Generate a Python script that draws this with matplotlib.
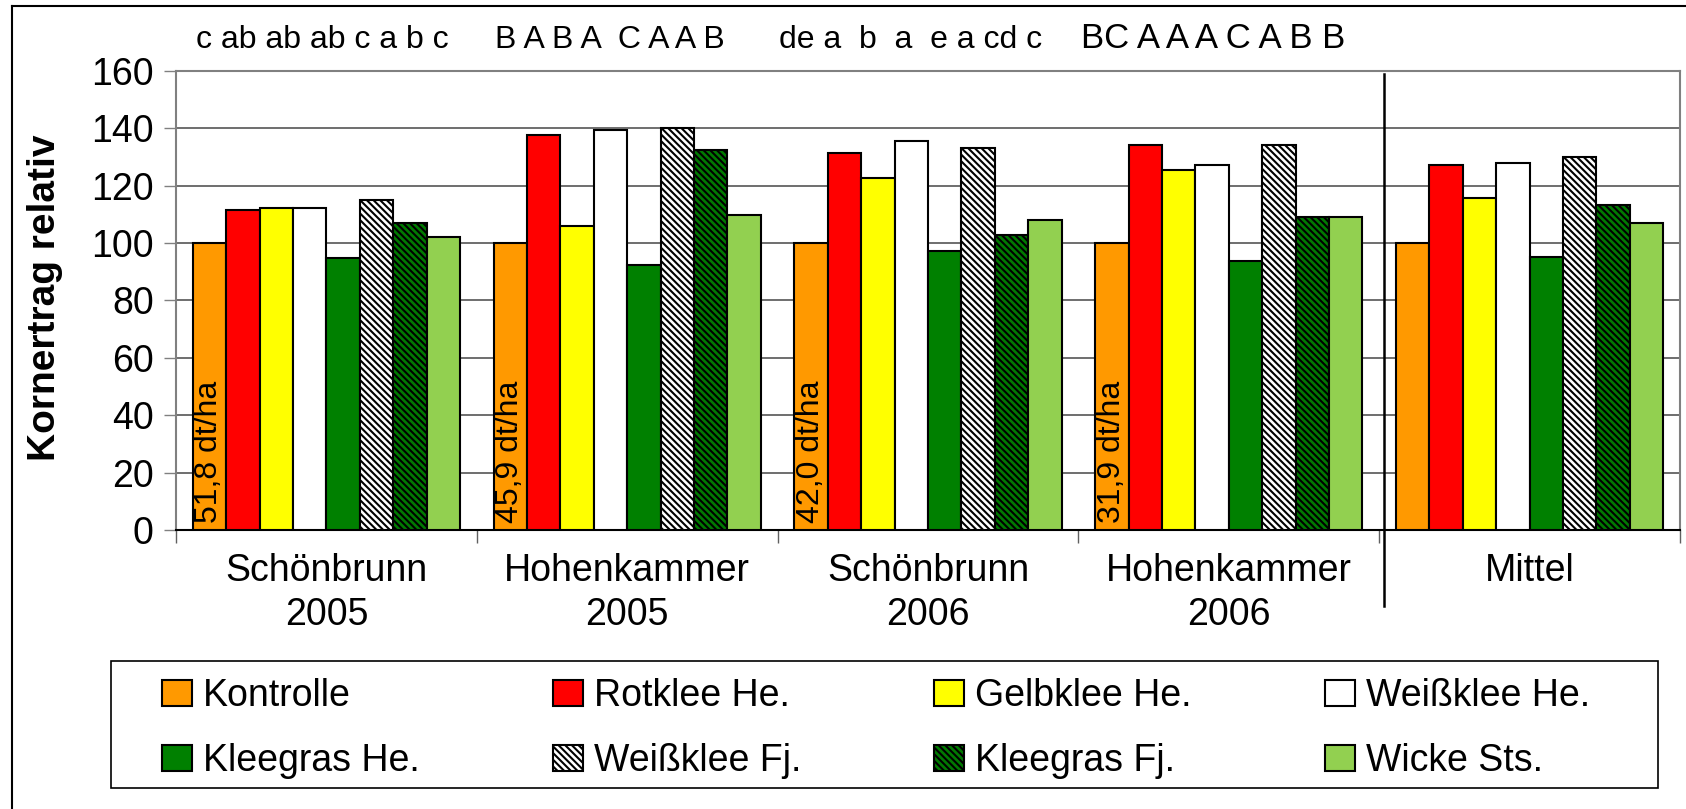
import matplotlib
matplotlib.use("Agg")
import matplotlib.pyplot as plt
from matplotlib.lines import Line2D
from matplotlib.patches import Rectangle
import matplotlib.transforms as mtransforms
import numpy as np

plt.rcParams['font.family'] = ['Liberation Sans', 'DejaVu Sans']
plt.rcParams['hatch.linewidth'] = 1.5
plt.rcParams['hatch.color'] = 'black'

# ---------------- data ----------------
groups = ["Schönbrunn\n2005", "Hohenkammer\n2005", "Schönbrunn\n2006",
          "Hohenkammer\n2006", "Mittel"]
series = ["Kontrolle", "Rotklee He.", "Gelbklee He.", "Weißklee He.",
          "Kleegras He.", "Weißklee Fj.", "Kleegras Fj.", "Wicke Sts."]

kontrolle   = [100, 100, 100, 100, 100]
rotklee     = [111.5, 137.7, 131.5, 134.1, 127.1]
gelbklee    = [112.3, 106.0, 122.7, 125.4, 115.8]
weissklee   = [112.3, 139.2, 135.7, 127.0, 128.0]
kleegras    = [94.9, 92.3, 97.3, 93.8, 95.0]
weissklee_f = [115.0, 140.2, 133.2, 134.1, 129.8]
kleegras_f  = [107.1, 132.3, 102.8, 108.9, 113.2]
wicke       = [102.0, 109.6, 108.0, 108.9, 107.1]

absolute_labels = ["51,8 dt/ha", "45,9 dt/ha", "42,0 dt/ha", "31,9 dt/ha"]

letter_rows = ["c ab ab ab c a b c",
               "B A B A  C A A B",
               "de a  b  a  e a cd c",
               "BC A A A C A B B"]

yticks = [0, 20, 40, 60, 80, 100, 120, 140, 160]

# ---------------- styles ----------------
values = [kontrolle, rotklee, gelbklee, weissklee, kleegras, weissklee_f,
          kleegras_f, wicke]
colors = ['#FF9900', '#FF0000', '#FFFF00', '#FFFFFF', '#008000', '#FFFFFF',
          '#007A00', '#92D050']
hatches = [None, None, None, None, None, '\\' * 5, '\\' * 5, None]
letter_sizes = [23, 23, 23, 25]
letter_offsets = [0.066, 0.06, 0.005, 0.01]

W, H = 1686, 809
fig = plt.figure(figsize=(W / 100, H / 100), dpi=100)
ax = fig.add_axes([176 / W, 1 - 530.3 / H, 1504 / W, (530.3 - 70.7) / H])

n_groups = len(groups)
n_series = len(series)
bw = 1.0 / (n_series + 1)
gx = np.arange(n_groups)

bars = []
for j in range(n_series):
    xs = gx + (j + 1) * bw
    b = ax.bar(xs, values[j], width=bw, color=colors[j], edgecolor='black',
               linewidth=1.5, hatch=hatches[j], label=series[j], zorder=3)
    bars.append(b)

# rotated absolute yields inside Kontrolle bars
for i, lab in enumerate(absolute_labels):
    ax.text(gx[i] + bw, 2.5, lab, rotation=90, ha='center', va='bottom',
            fontsize=23, color='black', zorder=5)

# significance letters above plot
trans = mtransforms.blended_transform_factory(ax.transData, fig.transFigure)
for i, s in enumerate(letter_rows):
    ax.text(gx[i] + letter_offsets[i], 1 - 48 / H, s, transform=trans,
            ha='left', va='baseline', fontsize=letter_sizes[i], clip_on=False)

# axes formatting
ax.set_xlim(0, n_groups)
ax.set_ylim(0, 160)
ax.set_yticks(yticks)
ax.set_yticklabels([str(v) for v in yticks])
ax.tick_params(axis='y', direction='out', length=9, width=1, color='#808080',
               labelsize=27, pad=7)
ax.set_xticks(np.arange(n_groups + 1))
ax.set_xticklabels([])
ax.set_xticks(gx + 0.5, minor=True)
ax.set_xticklabels(groups, minor=True)
ax.tick_params(axis='x', which='major', direction='out', length=9, width=1,
               color='#606060')
ax.tick_params(axis='x', which='minor', length=0, labelsize=27, pad=16)
for lbl in ax.get_xticklabels(minor=True):
    lbl.set_linespacing(1.3)

ax.set_axisbelow(True)
ax.yaxis.grid(True, color='#555555', linewidth=1.2)
for s in ['left', 'top', 'right']:
    ax.spines[s].set_color('#808080')
    ax.spines[s].set_linewidth(1.5)
ax.spines['bottom'].set_color('black')
ax.spines['bottom'].set_linewidth(1.5)

# divider before "Mittel"
dtrans = mtransforms.blended_transform_factory(ax.transData, ax.transAxes)
ax.plot([n_groups - 1 + 0.017] * 2, [0.993, -0.165], color='black', lw=1.8,
        transform=dtrans, clip_on=False, zorder=6)

# y label
fig.text(45 / W, 1 - 298 / H, "Kornertrag relativ", rotation=90, ha='center',
         va='center', fontsize=28, fontweight='bold')

# legend (row-major order for 2 rows x 4 columns)
ncol = 4
nrow = 2
order = [r * ncol + c for c in range(ncol) for r in range(nrow)]
handles = [bars[k] for k in order]
labels = [series[k] for k in order]
leg = fig.legend(handles, labels, loc='center', ncol=ncol, mode='expand',
                 bbox_to_anchor=(162 / W, 80.5 / H, (1590 - 162) / W, 0),
                 fontsize=27, frameon=False,
                 handlelength=0.8, handleheight=0.7, handletextpad=0.3,
                 labelspacing=0.77, borderpad=0, borderaxespad=0,
                 columnspacing=1.0)
fig.add_artist(Rectangle((111 / W, 21 / H), 1547 / W, 127 / H,
                         transform=fig.transFigure, fill=False,
                         edgecolor='black', linewidth=1.2))

# figure border (left and top edges)
fig.add_artist(Line2D([12 / W, 12 / W], [0, 1 - 6 / H], transform=fig.transFigure,
                      color='black', lw=1.5))
fig.add_artist(Line2D([12 / W, 1], [1 - 6 / H, 1 - 6 / H], transform=fig.transFigure,
                      color='black', lw=1.5))

fig.savefig("out.png", dpi=100)
